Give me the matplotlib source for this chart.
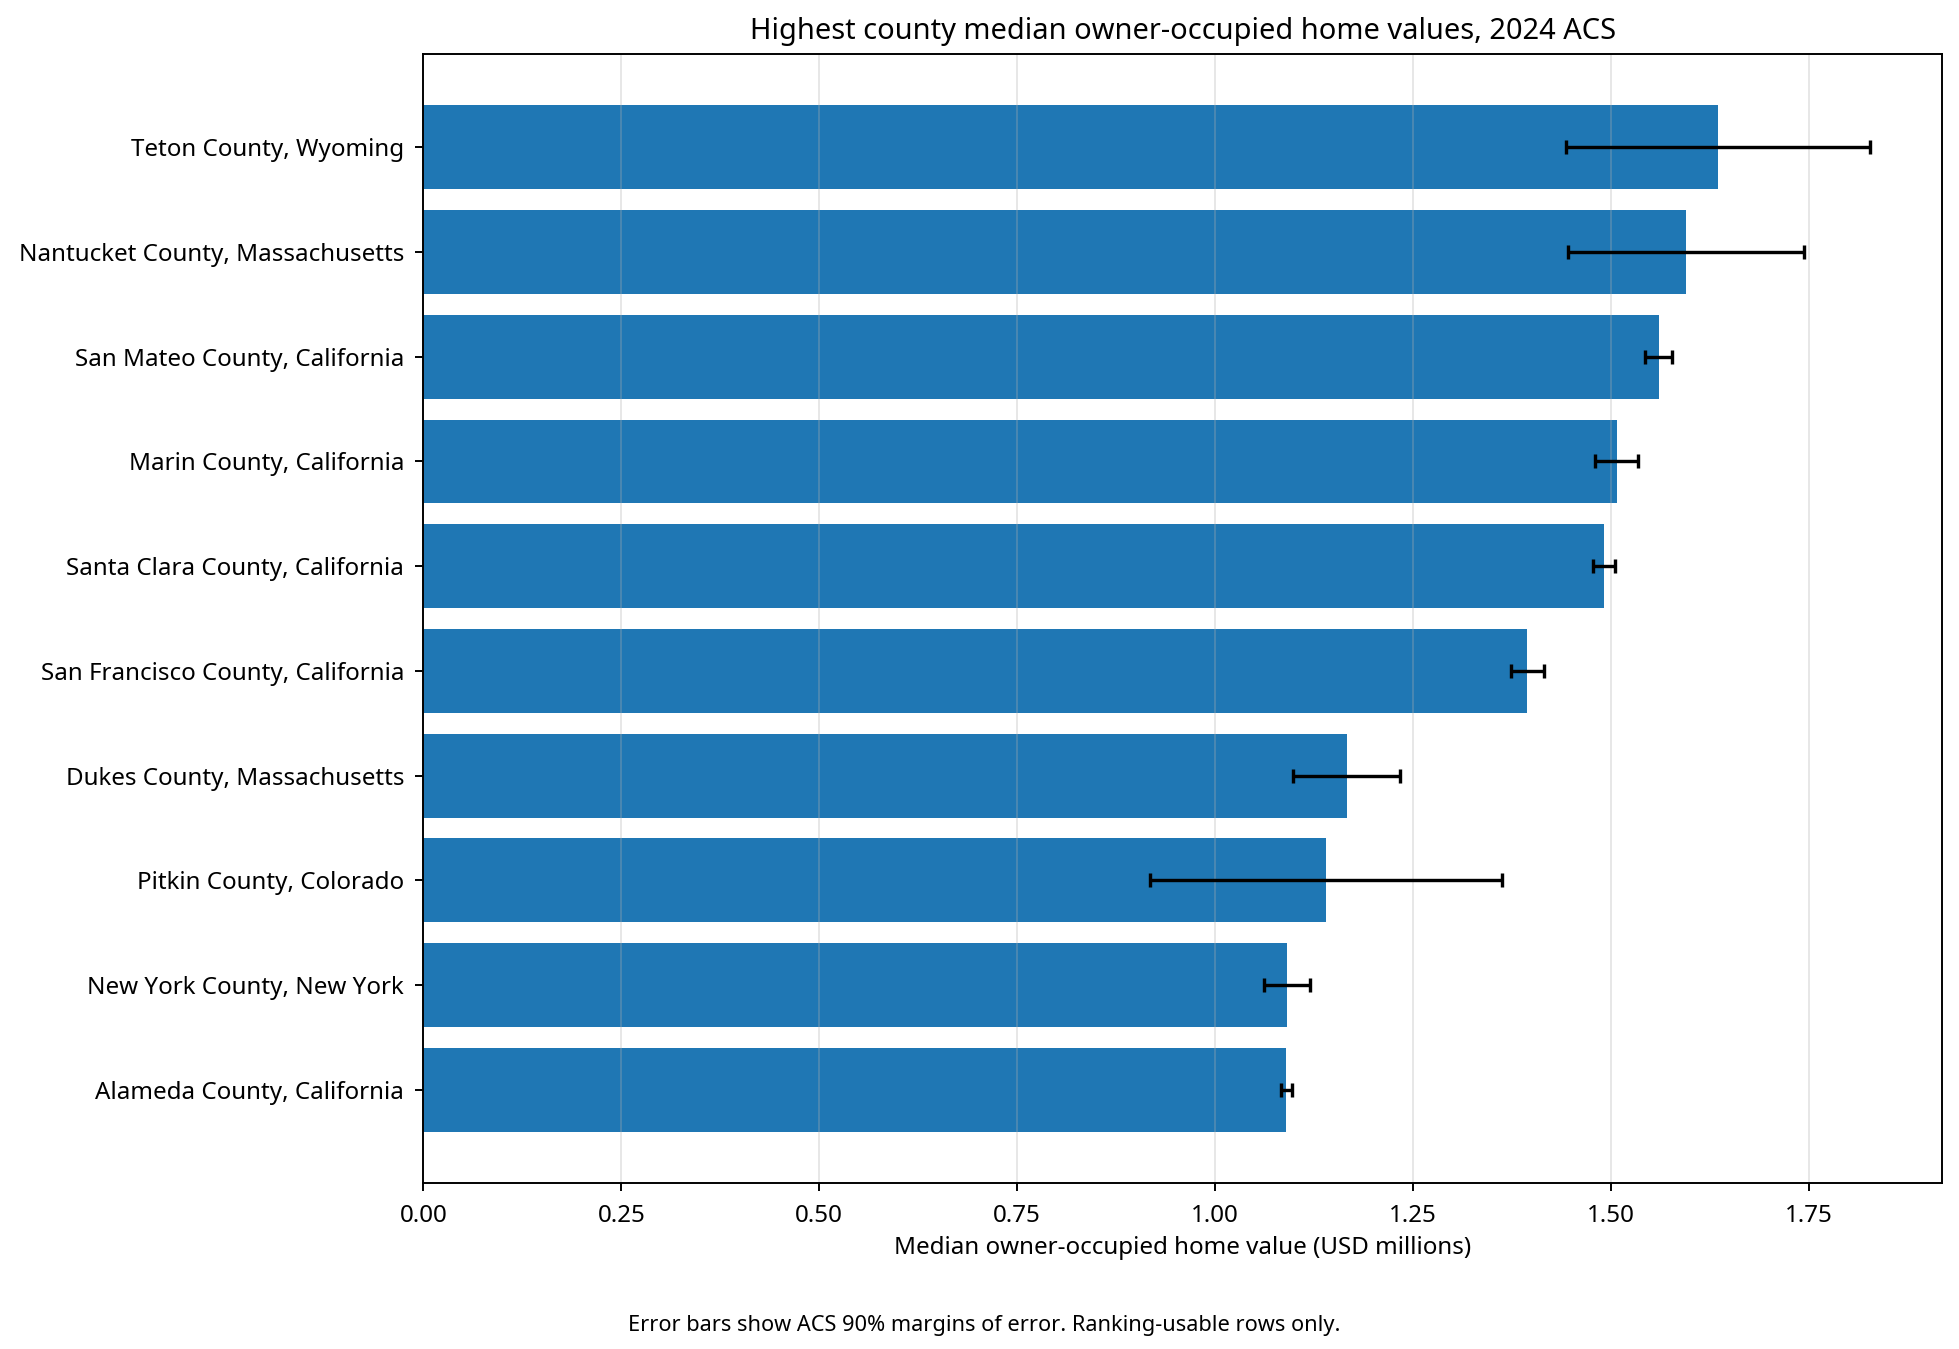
import matplotlib
matplotlib.use("Agg")
import matplotlib.pyplot as plt
import numpy as np

plt.rcParams['font.family'] = ['Noto Sans', 'DejaVu Sans']

counties = [
    "Teton County, Wyoming",
    "Nantucket County, Massachusetts",
    "San Mateo County, California",
    "Marin County, California",
    "Santa Clara County, California",
    "San Francisco County, California",
    "Dukes County, Massachusetts",
    "Pitkin County, Colorado",
    "New York County, New York",
    "Alameda County, California",
]
values = [1.635, 1.594, 1.560, 1.507, 1.491, 1.394, 1.166, 1.140, 1.091, 1.090]
moe = [0.192, 0.149, 0.017, 0.027, 0.014, 0.021, 0.068, 0.222, 0.029, 0.007]

DPI = 174
fig, ax = plt.subplots(figsize=(1960 / DPI, 1349 / DPI), dpi=DPI)
y = np.arange(len(counties))
ax.barh(y, values, xerr=moe, color="#1f77b4", height=0.8,
        error_kw=dict(ecolor="black", elinewidth=1.4, capsize=3, capthick=1.4))
ax.set_yticks(y)
ax.set_yticklabels(counties)
ax.invert_yaxis()
ax.grid(axis="x", alpha=0.3)
ax.tick_params(axis="x", pad=5)
ax.tick_params(axis="y", pad=4.5)
ax.set_xlabel("Median owner-occupied home value (USD millions)", labelpad=3.5)
ax.set_title("Highest county median owner-occupied home values, 2024 ACS")
fig.text(0.502, 0.013, "Error bars show ACS 90% margins of error. Ranking-usable rows only.",
         ha="center", fontsize=9)
fig.subplots_adjust(left=0.216, right=0.991, top=0.960, bottom=0.123)
fig.savefig("out.png", dpi=DPI)
